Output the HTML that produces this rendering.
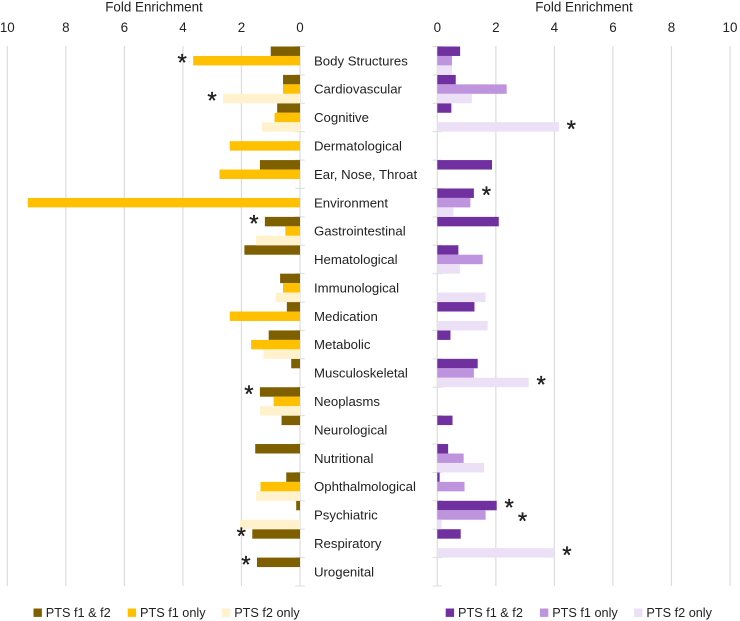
<!DOCTYPE html>
<html lang="en">
<head>
<meta charset="utf-8">
<title>Fold Enrichment</title>
<style>
html,body{margin:0;padding:0;background:#fff;width:740px;height:621px;overflow:hidden}
svg{display:block}
text{font-family:"Liberation Sans",sans-serif;fill:#222}
</style>
</head>
<body>
<svg id="chart" width="740" height="621" viewBox="0 0 740 621" xmlns="http://www.w3.org/2000/svg"></svg>
<script>
const categories = ["Body Structures","Cardiovascular","Cognitive","Dermatological","Ear, Nose, Throat","Environment","Gastrointestinal","Hematological","Immunological","Medication","Metabolic","Musculoskeletal","Neoplasms","Neurological","Nutritional","Ophthalmological","Psychiatric","Respiratory","Urogenital"];
const seriesNames = ["PTS f1 & f2","PTS f1 only","PTS f2 only"];
const xTicks = [0,2,4,6,8,10];
const leftBoth = [1.0,0.58,0.78,0,1.37,0,1.2,1.9,0.68,0.45,1.07,0.3,1.37,0.63,1.53,0.47,0.13,1.63,1.47];
const leftF1 = [3.65,0.58,0.87,2.4,2.75,9.3,0.5,0,0.58,2.4,1.67,0,0.9,0,0,1.35,0,0,0];
const leftF2 = [0,2.63,1.3,0,0,0,1.5,0,0.83,0,1.25,0,1.37,0,0,1.5,2.05,0,0];
const rightBoth = [0.78,0.63,0.48,0,1.87,1.25,2.1,0.72,0,1.27,0.45,1.38,0,0.52,0.37,0.08,2.03,0.8,0];
const rightF1 = [0.5,2.37,0,0,0,1.13,0,1.55,0,0,0,1.25,0,0,0.9,0.93,1.65,0,0];
const rightF2 = [0.5,1.18,4.15,0,0,0.55,0,0.78,1.65,1.72,0,3.12,0,0,1.6,0,0.15,4.0,0];
// significance markers: [category index, series index]
const leftStars = [[0,1],[1,2],[6,0],[12,0],[17,0],[18,0]];
const rightStars = [[2,2],[5,0],[11,2],[16,0],[16,1],[17,2]];

const NS = "http://www.w3.org/2000/svg";
const svg = document.getElementById("chart");
const leftColors = ["#7F6000","#FFC000","#FFF2CC"];
const rightColors = ["#7030A0","#BE94DF","#EBE0F6"];
const top0 = 46.5, bottom0 = 586, unit = 29.27;
const rowH = (bottom0 - top0) / categories.length;
const barH = rowH / 3;
const xLeft = v => 300 - v * unit;
const xRight = v => 437.3 + v * unit;
const yRow = i => top0 + i * rowH;
const ySlot = (i, s) => yRow(i) + s * barH;

function make(tag, attrs, parent, txt){
  const el = document.createElementNS(NS, tag);
  for (const k in attrs) el.setAttribute(k, attrs[k]);
  if (txt !== undefined) el.textContent = txt;
  (parent || svg).appendChild(el);
  return el;
}
function drawPanel(side, xs, series, colors, stars, titleX, legendX){
  const g = make("g", {});
  
  
  const title = make("text", {x:titleX, y:11.5, "font-size":13.4, "text-anchor":"middle"}, g, "Fold Enrichment");
  
  
  xTicks.forEach(t => {
    const label = make("text", {x:xs(t), y:32, "font-size":13.4, "text-anchor":"middle"}, g, String(t));
    
    
    const line = make("line", {x1:xs(t), x2:xs(t), y1:46, y2:bottom0, stroke:"#dcdcdc", "stroke-width":1.2}, g);
    
    
  });
  for (let i = 0; i <= categories.length; i++) {
    const tick = make("line", {x1:xs(0)-4.7, x2:xs(0)+4.7, y1:yRow(i), y2:yRow(i), stroke:"#dcdcdc", "stroke-width":1}, g);
    
    
  }
  series.forEach((vals, s) => {
    vals.forEach((v, i) => {
      if (!v) return;
      const a = xs(0), b = xs(v);
      const bar = make("rect", {x:Math.min(a,b), y:ySlot(i,s), width:Math.abs(b-a), height:barH, fill:colors[s]}, g);
      
      
    });
  });
  stars.forEach(st => {
    const c = st[0], s = st[1];
    const v = series[s][c];
    const dir = xs(1) > xs(0) ? 1 : -1;
    // the second Psychiatric marker sits clear of the first one, to the right and below
    const offset = side === 'right' && c === 16 && s === 1;
    const gap = offset ? 37 : (dir > 0 ? 12.5 : 11);
    const drop = offset ? 4 : 0;
    const star = make("text", {x:xs(v) + dir*gap, y:ySlot(c,s) + barH/2 + 10 + drop, "font-size":24, "text-anchor":"middle", fill:"#111", stroke:"#111", "stroke-width":0.3}, g, "*");
    
    
  });
  seriesNames.forEach((name, s) => {
    const x = legendX + s * 94.2;
    const swatch = make("rect", {x:x, y:608.5, width:8.4, height:8.4, fill:colors[s]}, g);
    
    
    const text = make("text", {x:x+12.3, y:617, "font-size":12.7}, g, name);
    
    
  });
}
drawPanel("left", xLeft, [leftBoth,leftF1,leftF2], leftColors, leftStars, 154, 33.5);
drawPanel("right", xRight, [rightBoth,rightF1,rightF2], rightColors, rightStars, 584, 445.7);
categories.forEach((name, i) => {
  const label = make("text", {x:314, y:yRow(i)+rowH/2+4.6, "font-size":13.2});
  label.textContent = name;
  
  
});
</script>
</body>
</html>
